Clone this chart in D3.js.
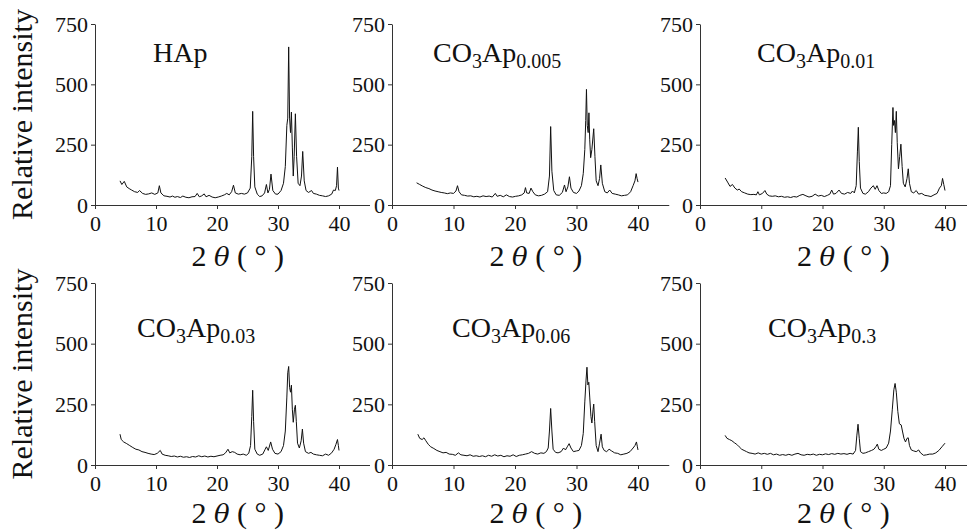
<!DOCTYPE html>
<html>
<head>
<meta charset="utf-8">
<script src="https://cdn.jsdelivr.net/npm/d3@7"></script>
<style>
  body { margin: 0; background: #fff; }
  svg { display: block; }
</style>
</head>
<body>
<script>
//Data - XRD patterns, [2theta, intensity]
const xTicks = [0, 10, 20, 30, 40];
const yTicks = [0, 250, 500, 750];
const sampleSubs = [null, "0.005", "0.01", "0.03", "0.06", "0.3"];
const serif = "'Liberation Serif', 'Times New Roman', serif";

const hap = [[4.1,100],[4.4,85],[4.8,98],[5.2,75],[5.6,68],[6.0,62],[6.5,55],[7.0,52],[7.3,60],[7.8,48],[8.3,44],[8.8,46],[9.3,50],[9.8,44],[10.3,50],[10.55,80],[10.8,50],[11.3,38],[11.8,36],[12.3,33],[12.7,37],[13.1,32],[13.5,35],[14.0,31],[14.4,37],[14.9,32],[15.4,30],[15.9,34],[16.4,35],[16.75,48],[17.1,34],[17.5,38],[17.9,46],[18.2,34],[18.7,40],[19.2,33],[19.7,30],[20.2,33],[20.7,37],[21.2,42],[21.6,48],[22.0,42],[22.4,55],[22.7,82],[23.0,50],[23.5,45],[24.0,48],[24.5,45],[25.0,50],[25.45,70],[25.7,200],[25.85,388],[26.0,200],[26.2,75],[26.6,45],[27.0,35],[27.4,38],[27.8,50],[28.1,85],[28.35,50],[28.6,65],[28.85,128],[29.15,60],[29.6,45],[30.0,45],[30.5,60],[30.9,90],[31.2,160],[31.45,330],[31.6,360],[31.75,655],[31.9,360],[32.05,300],[32.2,385],[32.35,240],[32.5,120],[32.65,200],[32.85,378],[33.05,200],[33.3,90],[33.6,80],[33.85,120],[34.05,222],[34.3,100],[34.6,60],[35.0,52],[35.5,60],[35.8,48],[36.3,45],[36.8,40],[37.3,38],[37.8,35],[38.3,38],[38.8,45],[39.1,62],[39.4,60],[39.6,80],[39.75,157],[39.9,70],[40.0,60]];

const co3_005 = [[4.0,92],[4.5,85],[5.0,78],[5.5,72],[6.0,68],[6.5,62],[7.0,58],[7.5,55],[8.0,52],[8.5,50],[9.0,47],[9.5,50],[10.0,48],[10.4,58],[10.65,80],[10.9,55],[11.3,42],[11.8,40],[12.3,37],[12.8,38],[13.3,34],[13.8,36],[14.3,33],[14.8,38],[15.3,35],[15.8,37],[16.3,33],[16.8,48],[17.1,36],[17.6,40],[18.1,34],[18.6,42],[19.1,35],[19.6,33],[20.1,36],[20.6,38],[21.1,42],[21.5,50],[21.7,72],[21.9,50],[22.3,48],[22.6,70],[22.9,55],[23.3,42],[23.8,38],[24.3,40],[24.8,45],[25.3,55],[25.6,120],[25.8,325],[26.0,140],[26.3,60],[26.7,42],[27.2,40],[27.7,52],[28.05,83],[28.3,55],[28.6,75],[28.85,117],[29.1,70],[29.5,52],[30.0,48],[30.4,58],[30.8,80],[31.1,130],[31.35,230],[31.5,350],[31.62,479],[31.75,330],[31.9,300],[32.02,382],[32.15,270],[32.3,196],[32.5,230],[32.8,316],[33.0,200],[33.2,100],[33.5,80],[33.75,110],[33.95,166],[34.2,90],[34.6,55],[35.0,50],[35.4,62],[35.8,48],[36.3,45],[36.8,42],[37.3,38],[37.8,40],[38.3,42],[38.8,55],[39.2,80],[39.5,100],[39.7,130],[39.85,110],[40.0,95]];

const co3_01 = [[4.1,112],[4.5,95],[4.9,77],[5.3,85],[5.7,70],[6.1,62],[6.4,66],[6.8,55],[7.3,50],[7.8,45],[8.3,43],[8.8,44],[9.2,42],[9.45,55],[9.7,42],[10.2,48],[10.6,60],[10.9,45],[11.3,38],[11.8,36],[12.3,38],[12.8,34],[13.3,36],[13.8,32],[14.3,34],[14.8,31],[15.3,35],[15.8,33],[16.3,40],[16.8,44],[17.3,38],[17.8,33],[18.3,36],[18.8,45],[19.3,37],[19.8,40],[20.3,35],[20.8,40],[21.2,45],[21.5,62],[21.8,45],[22.2,48],[22.7,62],[23.1,48],[23.6,45],[24.1,52],[24.6,48],[24.9,58],[25.2,50],[25.5,80],[25.7,220],[25.85,322],[26.0,180],[26.2,70],[26.6,48],[27.0,45],[27.5,55],[27.9,70],[28.3,80],[28.6,65],[28.9,80],[29.2,60],[29.6,48],[30.0,50],[30.4,48],[30.8,55],[31.1,80],[31.3,250],[31.5,404],[31.6,330],[31.75,350],[31.9,300],[32.05,388],[32.2,260],[32.4,150],[32.6,200],[32.8,252],[33.0,160],[33.2,90],[33.5,75],[33.8,110],[34.0,150],[34.2,90],[34.5,55],[34.9,50],[35.3,60],[35.7,45],[36.2,48],[36.7,40],[37.2,38],[37.7,35],[38.2,42],[38.7,48],[39.1,70],[39.4,80],[39.6,110],[39.8,85],[40.0,60]];

const co3_03 = [[4.1,127],[4.3,105],[4.7,95],[5.2,88],[5.7,80],[6.2,72],[6.7,65],[7.2,62],[7.7,55],[8.2,52],[8.7,48],[9.2,45],[9.7,43],[10.2,48],[10.7,60],[11.0,45],[11.5,40],[12.0,38],[12.5,35],[13.0,37],[13.5,33],[14.0,36],[14.5,32],[15.0,34],[15.5,31],[16.0,35],[16.5,33],[17.0,38],[17.5,34],[18.0,37],[18.5,33],[19.0,36],[19.5,34],[20.0,37],[20.5,40],[21.0,42],[21.4,50],[21.8,65],[22.1,50],[22.5,55],[22.9,52],[23.3,45],[23.8,42],[24.3,45],[24.8,40],[25.2,48],[25.5,80],[25.7,200],[25.85,308],[26.0,180],[26.2,65],[26.6,45],[27.0,40],[27.5,45],[27.9,65],[28.1,75],[28.4,60],[28.8,95],[29.1,65],[29.5,48],[30.0,45],[30.5,55],[30.9,80],[31.2,140],[31.45,280],[31.6,380],[31.75,406],[31.9,320],[32.05,300],[32.2,329],[32.35,230],[32.5,176],[32.7,230],[32.85,246],[33.0,180],[33.2,90],[33.5,70],[33.8,100],[34.0,148],[34.2,90],[34.5,55],[35.0,48],[35.4,52],[35.8,45],[36.3,42],[36.8,40],[37.3,38],[37.8,45],[38.3,40],[38.8,50],[39.2,65],[39.5,85],[39.75,105],[39.9,80],[40.0,60]];

const co3_06 = [[4.2,127],[4.5,110],[4.9,105],[5.2,112],[5.5,100],[5.9,85],[6.3,75],[6.8,68],[7.3,60],[7.8,55],[8.3,50],[8.8,52],[9.3,45],[9.8,44],[10.3,40],[10.8,50],[11.2,42],[11.7,40],[12.2,38],[12.7,42],[13.2,36],[13.7,38],[14.2,35],[14.7,38],[15.2,34],[15.7,40],[16.2,36],[16.7,42],[17.2,37],[17.7,40],[18.2,34],[18.7,38],[19.2,36],[19.7,42],[20.2,35],[20.7,40],[21.2,42],[21.7,45],[22.2,48],[22.7,55],[23.2,48],[23.7,45],[24.2,50],[24.7,48],[25.1,55],[25.4,70],[25.6,140],[25.8,233],[26.0,140],[26.2,65],[26.6,52],[27.0,50],[27.5,55],[27.9,70],[28.2,62],[28.5,75],[28.8,88],[29.1,70],[29.5,55],[30.0,58],[30.4,60],[30.8,80],[31.1,130],[31.35,260],[31.55,350],[31.7,403],[31.85,330],[32.0,341],[32.15,280],[32.35,200],[32.5,173],[32.7,230],[32.8,251],[32.95,180],[33.2,80],[33.5,55],[33.75,90],[34.0,127],[34.2,75],[34.5,60],[34.9,55],[35.3,65],[35.7,58],[36.2,50],[36.7,48],[37.2,42],[37.7,45],[38.2,48],[38.7,55],[39.2,70],[39.5,80],[39.75,95],[39.9,75],[40.0,62]];

const co3_3 = [[4.1,122],[4.4,110],[4.8,105],[5.2,100],[5.6,92],[6.0,85],[6.4,75],[6.8,65],[7.2,60],[7.6,55],[8.0,50],[8.5,48],[9.0,45],[9.5,50],[10.0,45],[10.5,48],[11.0,44],[11.5,48],[12.0,42],[12.5,45],[13.0,40],[13.5,43],[14.0,40],[14.5,44],[15.0,40],[15.5,45],[16.0,48],[16.5,42],[17.0,40],[17.5,44],[18.0,42],[18.5,45],[19.0,40],[19.5,44],[20.0,42],[20.5,46],[21.0,43],[21.5,47],[22.0,44],[22.5,48],[23.0,45],[23.5,47],[24.0,44],[24.5,48],[25.0,45],[25.4,60],[25.6,120],[25.8,168],[26.0,110],[26.2,55],[26.6,48],[27.0,50],[27.5,55],[28.0,60],[28.4,65],[28.7,75],[28.95,86],[29.2,65],[29.6,60],[30.0,65],[30.4,70],[30.8,90],[31.1,140],[31.4,230],[31.65,310],[31.85,336],[32.05,300],[32.3,220],[32.55,170],[32.85,165],[33.05,140],[33.3,110],[33.55,95],[33.8,110],[34.0,112],[34.2,80],[34.5,62],[34.9,58],[35.3,55],[35.7,62],[36.0,50],[36.5,40],[37.0,42],[37.5,45],[38.0,45],[38.5,50],[39.0,60],[39.5,75],[40.0,90]];

const series = [hap, co3_005, co3_01, co3_03, co3_06, co3_3];

//Layout of the 6 panels (pixel positions of 0 and 40 / 0 and 750)
const cols = [{x0: 95, x40: 339}, {x0: 392, x40: 638}, {x0: 700, x40: 945}];
const rows = [{y0: 205, y750: 24, title: 266, label: 62}, {y0: 465, y750: 283, title: 523, label: 337}];
const labelX = [153, 433, 757, 137, 452, 768];

const svg = d3.select("body").append("svg")
    .attr("width", 967)
    .attr("height", 532);

series.forEach((data, i) => {
    const col = cols[i % 3];
    const row = rows[Math.floor(i / 3)];
    const k = (col.x40 - col.x0) / 40;

    const xScale = d3.scaleLinear()
        .domain([0, 45])
        .range([col.x0, col.x0 + 45 * k]);
    const yScale = d3.scaleLinear()
        .domain([0, 750])
        .range([row.y0, row.y750]);

    const g = svg.append("g");

    //Axes
    const bottomAxis = d3.axisBottom(xScale)
        .tickValues(xTicks)
        .tickSize(4)
        .tickSizeOuter(0)
        .tickPadding(6);
    const leftAxis = d3.axisLeft(yScale)
        .tickValues(yTicks)
        .tickSize(4)
        .tickSizeOuter(0)
        .tickPadding(3);

    [g.append("g").attr("transform", "translate(0," + row.y0 + ")").call(bottomAxis),
     g.append("g").attr("transform", "translate(" + col.x0 + ",0)").call(leftAxis)]
        .forEach(ax => {
            ax.attr("font-family", serif).attr("font-size", 22);
            ax.selectAll("path, line").attr("stroke", "#333").attr("stroke-width", 1);
            ax.selectAll("text")
                .style("font-family", serif)
                .style("font-size", "22px")
                .attr("fill", "#111");
        });

    //Spectrum line
    const line = d3.line()
        .x(d => xScale(d[0]))
        .y(d => yScale(d[1]));

    g.append("path")
        .datum(data)
        .attr("fill", "none")
        .attr("stroke", "#111")
        .attr("stroke-width", 1)
        .attr("stroke-linejoin", "round")
        .attr("d", line);

    //Sample label
    const lab = g.append("text")
        .attr("x", labelX[i])
        .attr("y", row.label)
        .style("font-family", serif)
        .style("font-size", "28px")
        .attr("fill", "#111");
    if (sampleSubs[i] === null) {
        lab.text("HAp");
    } else {
        lab.append("tspan").text("CO");
        lab.append("tspan").attr("dy", 6).style("font-size", "20px").text("3");
        lab.append("tspan").attr("dy", -6).text("Ap");
        lab.append("tspan").attr("dy", 6).style("font-size", "20px").text(sampleSubs[i]);
    }

    //x axis title
    const xt = g.append("text")
        .attr("x", xScale(23.4))
        .attr("y", row.title)
        .attr("text-anchor", "middle")
        .attr("fill", "#111")
        .style("font-family", serif)
        .style("font-size", "30px")
        .style("white-space", "pre");
    xt.append("tspan").text("2 ");
    xt.append("tspan").style("font-style", "italic").style("font-family", "'DejaVu Serif', serif").style("font-size", "26px").text("θ");
    xt.append("tspan").text(" ( ° )");

    //y axis title (left column only)
    if (i % 3 === 0) {
        g.append("text")
            .attr("transform", "translate(32," + (row.y0 + row.y750) / 2 + ") rotate(-90)")
            .attr("text-anchor", "middle")
            .attr("fill", "#111")
            .style("font-family", serif)
            .style("font-size", "30px")
            .text("Relative intensity");
    }
});
</script>
</body>
</html>
